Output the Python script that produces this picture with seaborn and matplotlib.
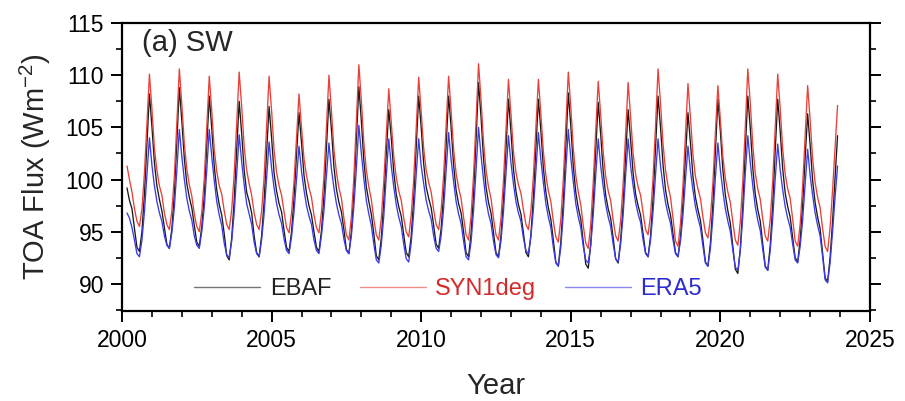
import numpy as np
import pandas as pd
import matplotlib
matplotlib.use("Agg")
import matplotlib.pyplot as plt
import seaborn as sns
from matplotlib.ticker import MultipleLocator

# Monthly global-mean TOA SW flux (W m-2), March 2000 - December 2023
start_year = 2000
start_month = 3

ebaf = [
    99.2, 98.0, 97.2, 95.3, 93.5, 93.1, 95.0, 98.6, 103.4, 108.2,
    105.1, 101.6, 99.4, 98.1, 97.0, 95.4, 93.8, 93.4, 95.3, 98.7, 103.6, 108.8,
    105.6, 102.0, 99.6, 98.3, 97.3, 95.6, 94.0, 93.6, 95.5, 98.5, 103.2, 108.0,
    104.9, 101.3, 99.0, 97.6, 96.6, 94.8, 92.7, 92.3, 94.4, 98.0, 102.9, 107.5,
    104.4, 100.9, 98.8, 97.9, 96.8, 94.6, 93.0, 92.6, 94.6, 97.9, 102.6, 107.0,
    104.0, 100.6, 98.9, 97.7, 96.9, 95.1, 93.5, 93.1, 95.0, 98.2, 102.4, 106.4,
    103.5, 100.4, 98.7, 97.5, 96.6, 95.0, 93.5, 93.1, 95.1, 98.4, 103.0, 107.7,
    104.8, 101.2, 99.1, 97.8, 96.9, 95.2, 93.3, 92.9, 95.0, 98.8, 103.8, 108.9,
    105.6, 101.8, 99.3, 97.9, 96.7, 94.8, 92.7, 92.3, 94.4, 97.9, 102.5, 106.7,
    104.0, 100.7, 98.6, 97.4, 96.5, 94.7, 93.0, 92.6, 94.6, 98.2, 103.1, 108.0,
    105.0, 101.5, 99.3, 98.2, 97.3, 95.6, 93.8, 93.4, 95.3, 98.6, 103.3, 108.0,
    105.0, 101.4, 99.0, 97.7, 96.8, 95.0, 93.0, 92.6, 94.8, 98.6, 103.8, 109.3,
    106.0, 102.0, 99.3, 97.8, 96.8, 94.9, 93.0, 92.6, 94.6, 98.1, 103.0, 107.7,
    104.6, 101.0, 98.9, 97.6, 96.7, 94.9, 93.0, 92.6, 94.7, 98.3, 103.0, 107.7,
    104.7, 101.1, 98.8, 97.3, 96.2, 94.2, 92.1, 91.7, 94.0, 97.9, 103.1, 108.3,
    105.2, 101.3, 98.8, 97.3, 96.2, 94.0, 91.9, 91.5, 93.8, 97.8, 102.8, 107.4,
    104.3, 100.8, 98.5, 97.2, 96.3, 94.4, 92.4, 92.0, 94.2, 97.6, 102.3, 106.7,
    103.8, 100.6, 98.6, 97.5, 96.6, 94.8, 93.0, 92.6, 94.6, 98.2, 103.2, 108.0,
    105.0, 101.4, 99.0, 97.6, 96.6, 94.8, 93.0, 92.6, 94.5, 97.8, 102.2, 106.4,
    103.5, 100.3, 98.3, 97.1, 96.1, 94.2, 92.1, 91.7, 93.9, 97.7, 102.8, 107.7,
    104.6, 100.9, 98.5, 97.0, 95.8, 93.6, 91.4, 91.0, 93.4, 97.5, 102.9, 108.0,
    104.9, 101.1, 98.6, 97.1, 96.0, 93.8, 91.7, 91.3, 93.7, 97.6, 102.8, 107.7,
    104.6, 101.0, 98.7, 97.4, 96.4, 94.4, 92.5, 92.1, 94.2, 97.6, 102.1, 106.3,
    103.3, 99.9, 97.8, 96.4, 95.3, 93.0, 90.6, 90.2, 92.5, 96.0, 100.2, 104.2,
]

syn1deg = [
    101.3, 100.0, 98.8, 97.2, 96.0, 95.5, 97.2, 100.6, 105.3, 110.1,
    106.8, 103.0, 100.9, 99.4, 98.5, 96.8, 95.7, 95.2, 97.0, 100.3, 105.4, 110.6,
    107.2, 103.4, 101.0, 99.5, 98.4, 96.7, 95.5, 95.0, 96.9, 100.1, 105.0, 109.9,
    106.6, 102.9, 100.8, 99.4, 98.6, 97.0, 95.7, 95.2, 97.1, 100.5, 105.3, 110.3,
    107.0, 103.2, 100.9, 99.6, 98.5, 96.8, 95.7, 95.2, 97.0, 100.2, 105.0, 109.9,
    106.6, 102.8, 100.7, 99.4, 98.5, 96.9, 95.4, 94.9, 96.8, 99.8, 104.0, 108.2,
    105.0, 102.0, 100.4, 99.2, 98.3, 96.6, 95.4, 94.9, 96.9, 100.3, 105.0, 110.0,
    106.6, 102.9, 100.7, 99.2, 98.2, 96.3, 94.7, 94.2, 96.4, 100.2, 105.5, 111.0,
    107.6, 103.5, 100.9, 99.3, 98.1, 96.2, 94.7, 94.2, 96.3, 99.8, 104.3, 108.7,
    105.4, 102.2, 100.2, 98.9, 98.0, 96.3, 95.0, 94.5, 96.6, 100.0, 104.9, 109.8,
    106.5, 103.0, 100.9, 99.7, 98.8, 97.1, 95.7, 95.2, 97.1, 100.4, 105.1, 109.9,
    106.6, 102.9, 100.6, 99.2, 98.2, 96.4, 94.7, 94.2, 96.5, 100.4, 105.6, 111.1,
    107.7, 103.6, 100.9, 99.3, 98.2, 96.3, 94.7, 94.2, 96.3, 99.9, 104.8, 109.6,
    106.3, 102.7, 100.7, 99.5, 98.7, 97.1, 95.7, 95.2, 97.0, 100.3, 104.9, 109.6,
    106.3, 102.7, 100.4, 98.9, 97.9, 96.0, 94.5, 94.0, 96.2, 100.0, 105.1, 110.3,
    107.0, 103.0, 100.4, 98.8, 97.6, 95.6, 93.9, 93.4, 95.7, 99.7, 104.7, 109.4,
    106.2, 102.6, 100.3, 98.9, 98.0, 96.1, 94.6, 94.1, 96.1, 99.6, 104.4, 109.3,
    106.0, 102.5, 100.5, 99.3, 98.5, 96.8, 95.2, 94.7, 96.6, 100.2, 105.2, 110.6,
    107.3, 103.4, 100.9, 99.4, 98.3, 96.3, 94.1, 93.6, 95.8, 99.5, 104.3, 109.2,
    105.9, 102.4, 100.3, 99.1, 98.2, 96.4, 94.9, 94.4, 96.3, 99.7, 104.5, 109.0,
    105.7, 102.2, 100.1, 98.8, 97.8, 95.9, 94.2, 93.7, 96.0, 99.9, 105.1, 110.6,
    107.3, 103.3, 100.6, 99.1, 98.1, 96.2, 94.6, 94.1, 96.2, 99.9, 104.9, 110.1,
    106.8, 102.9, 100.5, 99.1, 98.2, 96.2, 94.1, 93.6, 95.7, 99.4, 104.2, 109.0,
    105.7, 102.0, 99.7, 98.3, 97.3, 95.3, 93.6, 93.1, 95.4, 99.0, 103.0, 107.1,
]

era5 = [
    96.8, 96.3, 95.4, 94.2, 92.9, 92.6, 94.2, 96.9, 100.4, 104.0,
    101.4, 99.4, 97.9, 96.8, 96.0, 94.6, 93.7, 93.4, 94.9, 97.3, 100.9, 104.8,
    102.2, 100.0, 98.2, 97.0, 96.1, 94.6, 93.7, 93.4, 95.0, 97.3, 100.9, 104.8,
    102.2, 99.9, 97.9, 96.6, 95.6, 93.9, 92.8, 92.5, 94.1, 96.8, 100.6, 104.3,
    101.7, 99.5, 97.7, 96.7, 95.7, 94.0, 92.9, 92.6, 94.2, 96.7, 100.2, 103.6,
    101.1, 99.2, 97.7, 96.6, 95.8, 94.3, 93.2, 92.9, 94.5, 96.9, 100.1, 103.2,
    100.8, 99.0, 97.5, 96.5, 95.7, 94.2, 93.2, 92.9, 94.6, 97.0, 100.4, 103.5,
    101.0, 99.2, 97.7, 96.6, 95.8, 94.3, 93.2, 92.9, 94.6, 97.4, 101.1, 105.2,
    102.5, 100.1, 98.0, 96.7, 95.6, 93.8, 92.3, 92.0, 93.7, 96.5, 100.3, 103.9,
    101.3, 99.3, 97.6, 96.4, 95.5, 93.8, 92.4, 92.1, 93.9, 96.8, 100.5, 103.9,
    101.3, 99.6, 98.0, 97.0, 96.2, 94.6, 93.4, 93.1, 94.6, 97.2, 100.8, 104.5,
    101.9, 99.8, 97.9, 96.7, 95.8, 94.1, 92.6, 92.3, 94.0, 97.0, 100.9, 105.0,
    102.3, 100.0, 98.0, 96.7, 95.8, 94.1, 92.8, 92.5, 94.1, 96.9, 100.6, 104.2,
    101.6, 99.6, 97.9, 96.8, 96.0, 94.4, 93.2, 92.9, 94.5, 97.1, 100.8, 104.5,
    101.9, 99.7, 97.7, 96.4, 95.4, 93.5, 92.0, 91.7, 93.5, 96.7, 100.9, 104.8,
    102.1, 99.8, 97.7, 96.4, 95.4, 93.6, 92.3, 92.0, 93.7, 96.6, 100.4, 103.9,
    101.3, 99.3, 97.6, 96.4, 95.5, 93.8, 92.4, 92.1, 93.8, 96.6, 100.4, 103.9,
    101.3, 99.4, 97.8, 96.7, 95.9, 94.2, 92.9, 92.6, 94.2, 96.9, 100.5, 103.9,
    101.3, 99.4, 97.8, 96.7, 95.8, 94.2, 92.9, 92.6, 94.1, 96.6, 100.0, 103.2,
    100.8, 99.0, 97.4, 96.3, 95.4, 93.6, 92.0, 91.7, 93.4, 96.4, 100.2, 103.5,
    100.9, 98.9, 97.2, 96.0, 95.0, 93.2, 91.6, 91.3, 93.2, 96.5, 100.6, 104.2,
    101.6, 99.4, 97.4, 96.1, 95.1, 93.3, 91.6, 91.3, 93.2, 96.3, 100.1, 103.4,
    100.9, 99.0, 97.4, 96.3, 95.4, 93.8, 92.3, 92.0, 93.6, 96.1, 99.6, 102.9,
    100.4, 98.5, 96.8, 95.6, 94.6, 92.6, 90.4, 90.1, 92.0, 95.0, 98.3, 101.3,
]

series_names = ["EBAF", "SYN1deg", "ERA5"]
line_colors = ["#1a1a1a", "#e8403a", "#3b3be6"]
text_colors = ["#222222", "#d42a2a", "#2a2ad0"]
x_ticks = [2000, 2005, 2010, 2015, 2020, 2025]
y_ticks = [90, 95, 100, 105, 110, 115]

n = len(ebaf)
month_index = np.arange(n) + (start_month - 1)
decimal_year = start_year + month_index / 12.0

df = pd.DataFrame({
    "Year": np.tile(decimal_year, 3),
    "Flux": ebaf + syn1deg + era5,
    "Dataset": np.repeat(series_names, n),
})

sns.set_style("ticks")
plt.rcParams["font.family"] = ["Liberation Sans", "DejaVu Sans"]
plt.rcParams["mathtext.fontset"] = "custom"
plt.rcParams["mathtext.rm"] = "Liberation Sans"
plt.rcParams["mathtext.it"] = "Liberation Sans"

fig = plt.figure(figsize=(9.05, 4.01), dpi=100)
ax = fig.add_axes([0.1348, 0.2244, 0.8265, 0.7182])

sns.lineplot(data=df, x="Year", y="Flux", hue="Dataset",
             palette=dict(zip(series_names, line_colors)),
             hue_order=series_names, linewidth=0.95, ax=ax, legend=True)

ax.set_xlim(2000, 2025)
ax.set_ylim(87.4, 115)
ax.set_xticks(x_ticks)
ax.set_yticks(y_ticks)
ax.xaxis.set_minor_locator(MultipleLocator(1))
ax.yaxis.set_minor_locator(MultipleLocator(2.5))

for s in ax.spines.values():
    s.set_linewidth(1.6)
    s.set_color("black")
ax.tick_params(axis="both", which="major", direction="out", length=8,
               width=1.4, labelsize=16.5, colors="black", pad=5)
ax.tick_params(axis="both", which="minor", direction="out", length=4.5,
               width=1.4)
ax.tick_params(axis="y", which="both", left=True, right=True,
               labelright=False)
ax.tick_params(axis="x", which="both", top=False)

ax.set_xlabel("Year", fontsize=21, labelpad=14)
ax.set_ylabel("TOA Flux (Wm$^{-2}$)", fontsize=21, labelpad=9)

ax.text(0.027, 0.93, "(a) SW", transform=ax.transAxes, fontsize=21,
        ha="left", va="center")

handles, labels = ax.get_legend_handles_labels()
leg = ax.legend(handles, labels, loc="center", bbox_to_anchor=(0.436, 0.075),
                ncol=3, frameon=False, fontsize=17, handlelength=2.8,
                handletextpad=0.4, columnspacing=1.2, borderaxespad=0)
for txt, c in zip(leg.get_texts(), text_colors):
    txt.set_color(c)
for h in leg.get_lines():
    h.set_linewidth(1.0)
    h.set_alpha(0.6)

fig.savefig("out.png", dpi=100)
